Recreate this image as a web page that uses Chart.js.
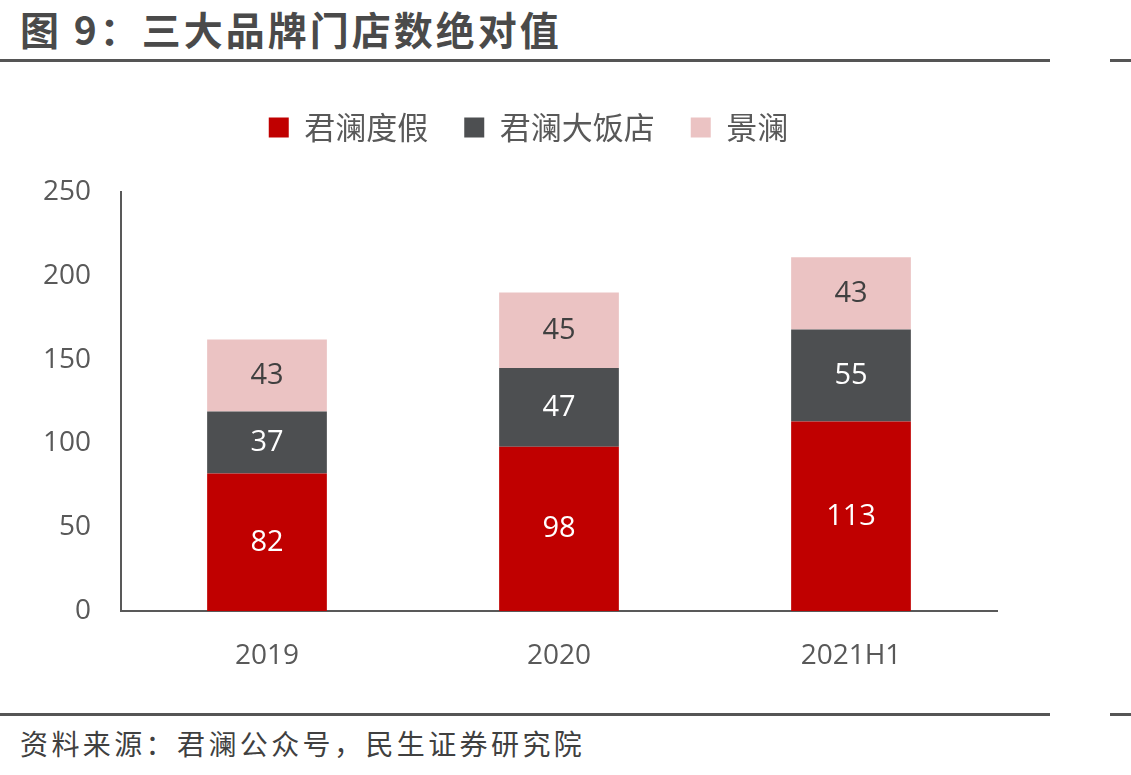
<!DOCTYPE html>
<html>
<head>
<meta charset="utf-8">
<script src="https://cdn.jsdelivr.net/npm/chart.js@4.4.1/dist/chart.umd.min.js"></script>
<style>
  body { margin: 0; width: 1131px; height: 775px; background: #fff; position: relative; overflow: hidden;
         font-family: "Open Sans", "Noto Sans CJK SC", sans-serif; }
  .title { position: absolute; left: 20px; top: 0px; font-size: 39px; font-weight: 700; color: #4a4a4a;
           font-family: "Noto Sans CJK SC", sans-serif; letter-spacing: 3px; }
  .rule { position: absolute; height: 3px; background: #555; }
  .src { position: absolute; left: 20px; top: 723px; font-size: 28px; color: #404040;
         font-family: "Noto Sans CJK SC", sans-serif; letter-spacing: 3.4px; }
  #wrap { position: absolute; left: 0; top: 60px; width: 1056px; height: 650px; }
</style>
</head>
<body>
<div class="title">图 9：三大品牌门店数绝对值</div>
<div class="rule" style="left:0;top:59px;width:1050px"></div>
<div class="rule" style="left:1110px;top:59px;width:21px"></div>
<div id="wrap"><canvas id="c"></canvas></div>
<div class="rule" style="left:0;top:713px;width:1050px"></div>
<div class="rule" style="left:1110px;top:713px;width:21px"></div>
<div class="src">资料来源：君澜公众号，民生证券研究院</div>
<script>
const labels = ['2019', '2020', '2021H1'];
const seriesNames = ['君澜度假', '君澜大饭店', '景澜'];
const resort = [82, 98, 113];
const hotel = [37, 47, 55];
const jinglan = [43, 45, 43];
const colors = ['#C00000', '#4D4F51', '#EBC3C3'];
const labelColors = ['#ffffff', '#ffffff', '#404040'];

const valueLabels = {
  id: 'valueLabels',
  afterDatasetsDraw(chart) {
    const ctx = chart.ctx;
    ctx.save();
    ctx.font = '29px "Open Sans", sans-serif';
    ctx.textAlign = 'center';
    ctx.textBaseline = 'middle';
    chart.data.datasets.forEach((ds, i) => {
      chart.getDatasetMeta(i).data.forEach((bar, j) => {
        ctx.fillStyle = labelColors[i];
        ctx.fillText(ds.data[j], bar.x, (bar.y + bar.base) / 2);
      });
    });
    ctx.restore();
  }
};

// taller legend box, centred over the plot area rather than the whole canvas
const legendFix = {
  id: 'legendFix',
  beforeInit(chart) {
    const fit = chart.legend.fit;
    chart.legend.fit = function () { fit.bind(chart.legend)(); this.height = 116; };
  },
  afterLayout(chart) {
    chart.legend.left += 60;
  }
};

new Chart(document.getElementById('c'), {
  type: 'bar',
  data: {
    labels,
    datasets: [
      { label: seriesNames[0], data: resort, backgroundColor: colors[0] },
      { label: seriesNames[1], data: hotel, backgroundColor: colors[1] },
      { label: seriesNames[2], data: jinglan, backgroundColor: colors[2] }
    ]
  },
  plugins: [valueLabels, legendFix],
  options: {
    responsive: true,
    maintainAspectRatio: false,
    animation: false,
    layout: { padding: { top: 16, right: 59, left: 0, bottom: 0 } },
    datasets: { bar: { barPercentage: 0.41, categoryPercentage: 1 } },
    plugins: {
      legend: {
        position: 'top',
        labels: {
          boxWidth: 20, boxHeight: 20, padding: 36, color: '#595959',
          font: { size: 31, family: '"Noto Sans CJK SC", sans-serif' }
        }
      },
      tooltip: { enabled: false }
    },
    scales: {
      x: {
        stacked: true,
        grid: { display: false, drawTicks: false },
        border: { color: '#595959', width: 2 },
        ticks: { color: '#595959', padding: 28, font: { size: 28, family: '"Open Sans", sans-serif' } },
        afterFit(s) { s.height = 99; }
      },
      y: {
        stacked: true,
        min: 0, max: 250,
        grid: { display: false, drawTicks: false },
        border: { color: '#595959', width: 2 },
        ticks: { stepSize: 50, color: '#595959', padding: 30, font: { size: 28, family: '"Open Sans", sans-serif' } },
        afterFit(s) { s.width = 121; }
      }
    }
  }
});
</script>
</body>
</html>
